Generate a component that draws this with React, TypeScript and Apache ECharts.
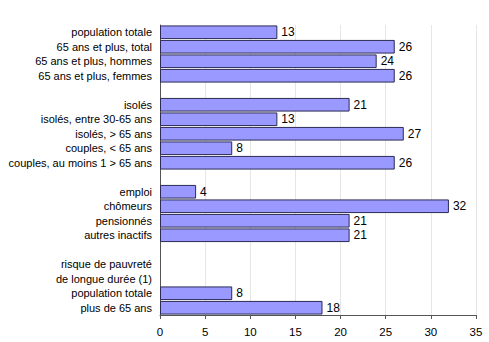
import React, { useEffect, useRef } from "react";
import * as echarts from "echarts";

const categories = [
  "population totale",
  "65 ans et plus, total",
  "65 ans et plus, hommes",
  "65 ans et plus, femmes",
  "",
  "isolés",
  "isolés, entre 30-65 ans",
  "isolés, > 65 ans",
  "couples, < 65 ans",
  "couples, au moins 1 > 65 ans",
  "",
  "emploi",
  "chômeurs",
  "pensionnés",
  "autres inactifs",
  "",
  "risque de pauvreté",
  "de longue durée (1)",
  "population totale",
  "plus de 65 ans",
];

const values: (number | null)[] = [
  13, 26, 24, 26, null, 21, 13, 27, 8, 26, null, 4, 32, 21, 21, null, null, null, 8, 18,
];

const xTicks = { min: 0, max: 35, interval: 5 };

export default function App() {
  const ref = useRef<HTMLDivElement>(null);
  useEffect(() => {
    if (!ref.current) return;
    const chart = echarts.init(ref.current, undefined, { renderer: "svg" });
    chart.setOption({
      animation: false,
      textStyle: { fontFamily: "Liberation Sans, Arial, sans-serif" },
      grid: { left: 160, right: 13, top: 25, bottom: 27, containLabel: false },
      xAxis: {
        type: "value",
        min: xTicks.min,
        max: xTicks.max,
        interval: xTicks.interval,
        axisLine: { show: true, lineStyle: { color: "#555", width: 1 } },
        axisTick: { show: true, length: 4, lineStyle: { color: "#555" } },
        axisLabel: { color: "#000", fontSize: 11.5, margin: 11 },
        splitLine: { show: true, lineStyle: { color: "#e6e6e6", width: 1 } },
      },
      yAxis: {
        type: "category",
        inverse: true,
        data: categories,
        axisLine: { show: true, lineStyle: { color: "#555", width: 1 } },
        axisTick: { show: false },
        axisLabel: { color: "#000", fontSize: 11, margin: 8, interval: 0 },
        splitLine: { show: false },
      },
      series: [
        {
          type: "bar",
          data: values,
          barCategoryGap: "6%",
          itemStyle: { color: "#9999ff", borderColor: "#2b2b55", borderWidth: 1 },
          label: {
            show: true,
            position: "right",
            distance: 4,
            color: "#000",
            fontSize: 12,
            formatter: (p: any) => (p.value == null ? "" : String(p.value)),
          },
        },
      ],
    });
    return () => chart.dispose();
  }, []);
  return (
    <div
      ref={ref}
      style={{ position: "absolute", left: 0, top: 0, width: 489, height: 342 }}
    />
  );
}
